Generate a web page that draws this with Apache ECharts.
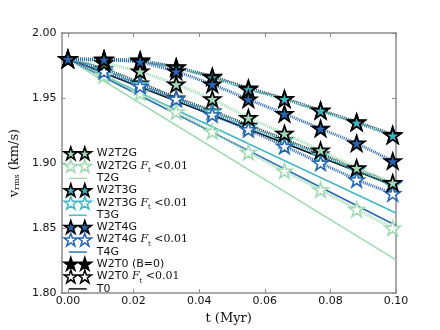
<!DOCTYPE html>
<html>
<head>
<meta charset="utf-8">
<script src="https://cdn.jsdelivr.net/npm/echarts@6/dist/echarts.min.js"></script>
<style>
html, body { margin: 0; padding: 0; background: #fff; }
#chart { width: 440px; height: 330px; }
</style>
</head>
<body>
<div id="chart"></div>
<script>
// sample times (Myr)
var tPts = [0, 0.011, 0.022, 0.033, 0.044, 0.055, 0.066, 0.077, 0.088, 0.099];
var tLine = [0, 0.1];

// v_rms values
var w2t2g   = [1.980, 1.977, 1.9705, 1.9606, 1.9492, 1.9348, 1.9227, 1.9098, 1.8962, 1.8848];
var w2t2gFt = [1.980, 1.9674, 1.9538, 1.9394, 1.9242, 1.9083, 1.8939, 1.8795, 1.8644, 1.850];
var t2g     = [1.980, 1.8255];
var w2t3g   = [1.980, 1.9795, 1.9788, 1.9735, 1.9659, 1.9568, 1.9492, 1.9402, 1.9311, 1.9212];
var w2t3gFt = [1.980, 1.972, 1.9606, 1.9492, 1.9394, 1.928, 1.9174, 1.906, 1.8947, 1.8833];
var t3g     = [1.980, 1.8616];
var w2t4g   = [1.980, 1.9795, 1.978, 1.9705, 1.9606, 1.949, 1.9379, 1.9265, 1.9152, 1.9015];
var w2t4gFt = [1.980, 1.9705, 1.9591, 1.9492, 1.9371, 1.9258, 1.9129, 1.900, 1.8871, 1.8765];
var t4g     = [1.980, 1.852];
var w2t0    = [1.980, 1.9798, 1.979, 1.9738, 1.9665, 1.9575, 1.9495, 1.9405, 1.9315, 1.9218];
var w2t0Ft  = [1.980, 1.9725, 1.9615, 1.950, 1.940, 1.929, 1.918, 1.907, 1.8955, 1.884];
var t0      = [1.980, 1.882];

var xTicks = [0, 0.02, 0.04, 0.06, 0.08, 0.10];

var GREEN = '#a1dab4', CYAN = '#41b6c4', BLUE = '#2866b1', BLACK = '#000';
var AXC = '#8a8a8a';

function starPath(cx, cy, r) {
	var s = '';
	for (var i = 0; i < 10; i++) {
		var a = (-90 + i * 36) * Math.PI / 180;
		var rr = i % 2 ? r * 0.382 : r;
		s += (i ? 'L' : 'M') + (cx + rr * Math.cos(a)).toFixed(2) + ',' + (cy + rr * Math.sin(a)).toFixed(2);
	}
	return s + 'Z';
}
var STAR = 'path://M0,0L0,0M20,20L20,20' + starPath(10, 10.9, 10);
var STAR2 = 'path://M0,0L0,0M28,13L28,13' + starPath(7, 7.2, 7) + starPath(21, 7.2, 7);
var LINEICON = 'path://M0,0L0,0M28,13L28,13M5,5.8L23,5.8L23,7.2L5,7.2Z';

function pairs(xs, ys) {
	return ys.map(function (v, i) { return [xs[i], v]; });
}

function starSeries(name, vals, color, filled) {
	return {
		name: name,
		type: 'line',
		data: pairs(tPts, vals),
		symbol: STAR,
		symbolSize: filled ? 17 : 16,
		lineStyle: { color: color, width: 3, type: [1, 1] },
		itemStyle: filled
			? { color: color, borderColor: '#000', borderWidth: 1.8 }
			: { color: '#fff', borderColor: color, borderWidth: 1.6 },
		z: filled ? 4 : 3
	};
}
function lineSeries(name, vals, color) {
	return {
		name: name,
		type: 'line',
		data: pairs(tLine, vals),
		showSymbol: false,
		symbol: 'none',
		lineStyle: { color: color, width: 1.5 },
		itemStyle: { color: color },
		z: 2
	};
}

var legendRows = [
	['W2T2G', 'f', GREEN], ['W2T2G Ft', 'h', GREEN], ['T2G', 'l', GREEN],
	['W2T3G', 'f', CYAN], ['W2T3G Ft', 'h', CYAN], ['T3G', 'l', CYAN],
	['W2T4G', 'f', BLUE], ['W2T4G Ft', 'h', BLUE], ['T4G', 'l', BLUE],
	['W2T0 (B=0)', 'f', BLACK], ['W2T0 Ft', 'h', BLACK], ['T0', 'l', BLACK]
];
var legendData = legendRows.map(function (r) {
	if (r[1] == 'l') return { name: r[0], icon: LINEICON, itemStyle: { color: r[2], borderWidth: 0 } };
	if (r[1] == 'f') return { name: r[0], icon: STAR2, itemStyle: { color: r[2], borderColor: '#000', borderWidth: 1.6 } };
	return { name: r[0], icon: STAR2, itemStyle: { color: '#fff', borderColor: r[2], borderWidth: 1.5 } };
});

var chart = echarts.init(document.getElementById('chart'));
var tickFont = { fontFamily: 'DejaVu Sans', fontSize: 11, color: '#111' };

chart.setOption({
	animation: false,
	grid: { left: 55, right: 44, top: 33, bottom: 34 },
	legend: {
		orient: 'vertical',
		left: 63,
		top: 146,
		padding: 0,
		itemWidth: 28,
		itemHeight: 13,
		itemGap: -2,
		selectedMode: false,
		data: legendData,
		textStyle: {
			fontFamily: 'DejaVu Sans', fontSize: 11, color: '#111', lineHeight: 12,
			rich: {
				n: { fontFamily: 'DejaVu Sans', fontSize: 11, lineHeight: 12 },
				f: { fontFamily: 'DejaVu Serif', fontStyle: 'italic', fontSize: 11, lineHeight: 12 },
				s: { fontFamily: 'DejaVu Serif', fontSize: 7, lineHeight: 12, verticalAlign: 'bottom', padding: [0, 0, -2, 0] },
				m: { fontFamily: 'DejaVu Serif', fontSize: 11, lineHeight: 12 }
			}
		},
		formatter: function (name) {
			if (name.indexOf(' Ft') > 0) {
				return '{n|' + name.replace(' Ft', '') + ' }{f|F}{s|t}{m| <0.01}';
			}
			return '{n|' + name + '}';
		}
	},
	xAxis: [{
		type: 'value',
		min: -0.002,
		max: 0.1,
		name: 't (Myr)',
		nameLocation: 'middle',
		nameGap: 17,
		nameTextStyle: { fontFamily: 'DejaVu Serif', fontSize: 13, color: '#111' },
		axisLine: { onZero: false, lineStyle: { color: AXC, width: 1.5 } },
		axisTick: { inside: true, length: 4, customValues: xTicks, lineStyle: { color: AXC } },
		axisLabel: Object.assign({ margin: 3, customValues: xTicks, formatter: function (v) { return v.toFixed(2); } }, tickFont),
		splitLine: { show: false }
	}, {
		type: 'value',
		position: 'top',
		min: -0.002,
		max: 0.1,
		axisLine: { onZero: false, lineStyle: { color: AXC, width: 1.5 } },
		axisTick: { inside: true, length: 4, customValues: xTicks, lineStyle: { color: AXC } },
		axisLabel: { show: false },
		splitLine: { show: false }
	}],
	yAxis: [{
		type: 'value',
		min: 1.80,
		max: 2.00,
		interval: 0.05,
		name: '{v|v}{s|rms}{v| (km/s)}',
		nameLocation: 'middle',
		nameGap: 24,
		nameTextStyle: {
			color: '#111',
			rich: {
				v: { fontFamily: 'DejaVu Serif', fontSize: 13, color: '#111' },
				s: { fontFamily: 'DejaVu Serif', fontSize: 8, color: '#111', verticalAlign: 'bottom' }
			}
		},
		axisLine: { show: true, onZero: false, lineStyle: { color: AXC, width: 1.5 } },
		axisTick: { show: true, inside: true, length: 4, lineStyle: { color: AXC } },
		axisLabel: Object.assign({ margin: 5, formatter: function (v) { return v.toFixed(2); } }, tickFont),
		splitLine: { show: false }
	}, {
		type: 'value',
		position: 'right',
		min: 1.80,
		max: 2.00,
		interval: 0.05,
		axisLine: { show: true, onZero: false, lineStyle: { color: AXC, width: 1.5 } },
		axisTick: { show: true, inside: true, length: 4, lineStyle: { color: AXC } },
		axisLabel: { show: false },
		splitLine: { show: false }
	}],
	series: [
		lineSeries('T0', t0, BLACK),
		lineSeries('T2G', t2g, GREEN),
		lineSeries('T3G', t3g, CYAN),
		lineSeries('T4G', t4g, BLUE),
		starSeries('W2T0 Ft', w2t0Ft, BLACK, false),
		starSeries('W2T2G Ft', w2t2gFt, GREEN, false),
		starSeries('W2T3G Ft', w2t3gFt, CYAN, false),
		starSeries('W2T4G Ft', w2t4gFt, BLUE, false),
		starSeries('W2T0 (B=0)', w2t0, BLACK, true),
		starSeries('W2T2G', w2t2g, GREEN, true),
		starSeries('W2T3G', w2t3g, CYAN, true),
		starSeries('W2T4G', w2t4g, BLUE, true)
	]
});
</script>
</body>
</html>
